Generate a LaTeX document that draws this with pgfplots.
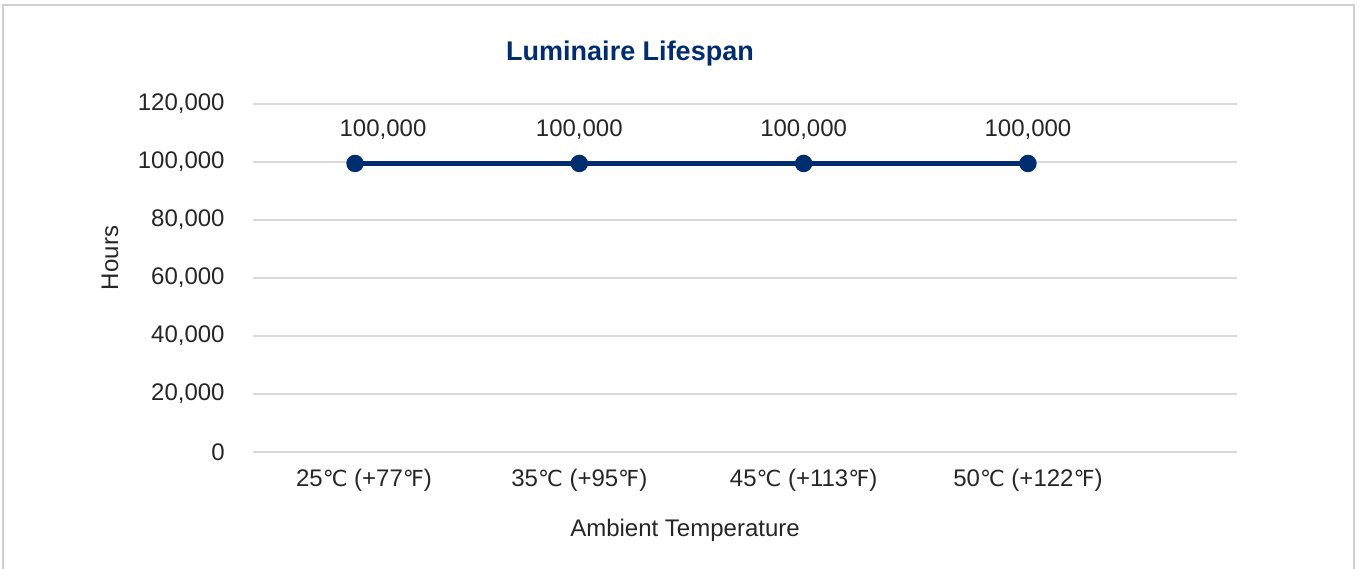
\documentclass[border=0pt]{standalone}
\usepackage{fontspec}
\setmainfont{Liberation Sans}
\newfontfamily\dv{DejaVu Sans}[Scale=0.92]
\usepackage{pgfplots}
\pgfplotsset{compat=1.18}
\definecolor{navy}{HTML}{002D6E}
\definecolor{txt}{HTML}{262626}
\definecolor{grid}{HTML}{D9D9D9}
\definecolor{frame}{HTML}{D0D0D0}
\newcommand{\dC}{{\dv ℃}}
\newcommand{\dF}{{\dv ℉}}
\begin{document}
\begin{tikzpicture}
\useasboundingbox (0,0) rectangle (679.5pt,284pt);
\draw[color=frame, line width=0.8pt] (1.5pt,-2pt) rectangle (677pt,281.5pt);
\begin{axis}[
  at={(126.5pt,58pt)}, anchor=south west,
  scale only axis, width=492pt, height=174pt,
  xmin=-0.4547, xmax=3.932, ymin=0, ymax=120000,
  axis line style={draw=none},
  major tick length=0pt,
  xtick={0,1,2,3},
  xticklabels={\hspace*{9pt}25\dC{} (+77\dF), 35\dC{} (+95\dF), 45\dC{} (+113\dF), 50\dC{} (+122\dF)},
  ytick={0,20000,40000,60000,80000,100000,120000},
  yticklabels={0,{20,000},{40,000},{60,000},{80,000},{100,000},{120,000}},
  ymajorgrids, xmajorgrids=false,
  grid style={draw=grid, line width=0.75pt},
  scaled y ticks=false,
  ticklabel style={font=\fontsize{12}{14}\selectfont, text=txt, inner sep=0pt},
  yticklabel style={anchor=east, xshift=-14pt},
  xticklabel style={anchor=center, yshift=-14pt},
  clip=false,
  nodes near coords, point meta=explicit symbolic,
  every node near coord/.style={anchor=center, yshift=17pt, font=\fontsize{12}{14}\selectfont, text=txt},
  coordinate style/.condition={\coordindex==0}{xshift=14pt},
]
\addplot[color=navy, line width=2.3pt, mark=*, mark size=3.2pt, mark options={fill=navy, draw=navy}]
  table[meta=lab] {
x y lab
0 99500 100,000
1 99500 100,000
2 99500 100,000
3 99500 100,000
};
\end{axis}
\node[font=\bfseries\fontsize{13.5}{16}\selectfont, text=navy] at (315pt,257pt) {Luminaire Lifespan};
\node[font=\fontsize{12}{14}\selectfont, text=txt] at (342.5pt,19pt) {Ambient Temperature};
\node[font=\fontsize{12}{14}\selectfont, text=txt, rotate=90] at (55pt,155pt) {Hours};
\end{tikzpicture}
\end{document}
